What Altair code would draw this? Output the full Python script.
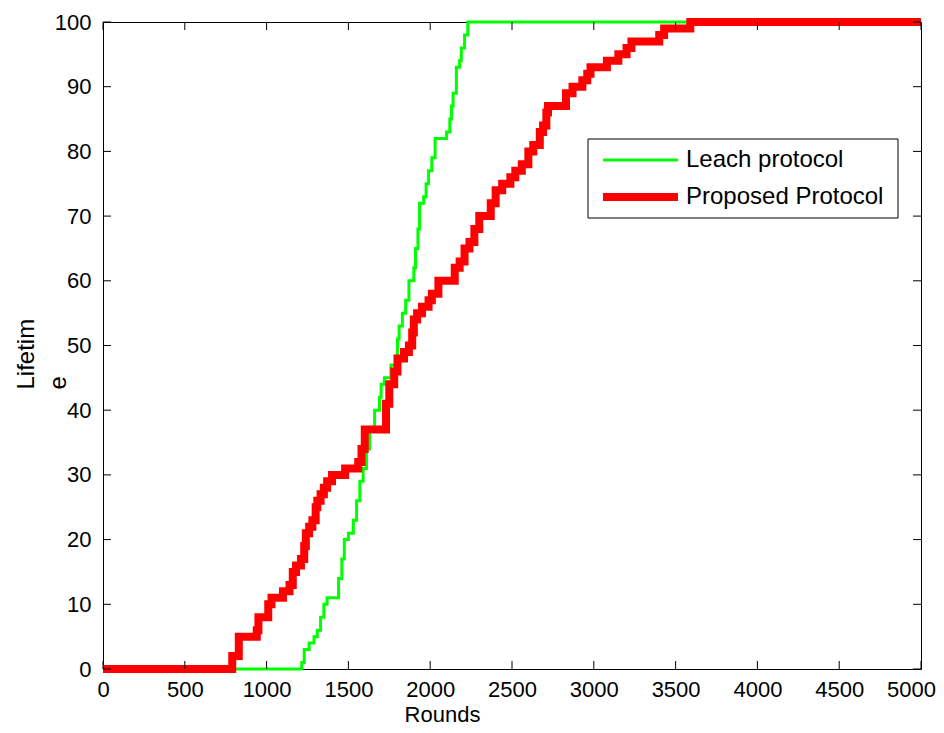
import altair as alt
import pandas as pd

# ---- data ----
series_names = ["Leach protocol", "Proposed Protocol"]
series_colors = ["#00ff00", "#ff0000"]
series_widths = [3, 8]

leach_rounds = [0, 1215, 1230, 1260, 1290, 1310, 1330, 1350, 1370, 1440, 1460, 1475,
                1500, 1530, 1550, 1570, 1590, 1610, 1630, 1660, 1690, 1700, 1720, 1760,
                1790, 1800, 1810, 1830, 1850, 1870, 1900, 1910, 1925, 1935, 1960, 1975,
                1990, 2010, 2030, 2100, 2120, 2130, 2140, 2160, 2180, 2190, 2210, 2230, 5000]
leach_values = [0, 1, 3, 4, 5, 6, 8, 10, 11, 14, 17, 20,
                21, 23, 26, 29, 31, 34, 37, 40, 42, 44, 45, 47,
                48, 51, 53, 55, 57, 60, 62, 65, 68, 72, 73, 75,
                77, 79, 82, 83, 85, 87, 89, 93, 94, 96, 98, 100, 100]

prop_rounds = [0, 790, 830, 940, 950, 1010, 1030, 1100, 1140, 1160, 1180, 1210, 1230,
               1240, 1260, 1280, 1300, 1310, 1330, 1350, 1370, 1400, 1480, 1560, 1580,
               1600, 1730, 1750, 1780, 1800, 1840, 1870, 1890, 1900, 1920, 1950, 1990,
               2010, 2050, 2150, 2180, 2210, 2240, 2270, 2300, 2370, 2400, 2440, 2490,
               2520, 2560, 2600, 2630, 2670, 2690, 2710, 2720, 2830, 2870, 2930, 2960,
               2980, 3080, 3150, 3200, 3230, 3400, 3430, 3590, 5000]
prop_values = [0, 2, 5, 6, 8, 10, 11, 12, 13, 15, 16, 17, 19,
               21, 22, 23, 25, 26, 27, 28, 29, 30, 31, 32, 34,
               37, 41, 44, 46, 48, 49, 50, 52, 54, 55, 56, 57,
               58, 60, 62, 63, 65, 66, 68, 70, 72, 74, 75, 76,
               77, 78, 80, 81, 83, 84, 86, 87, 89, 90, 91, 92,
               93, 94, 95, 96, 97, 98, 99, 100, 100]

x_ticks = [0, 500, 1000, 1500, 2000, 2500, 3000, 3500, 4000, 4500, 5000]
y_ticks = [0, 10, 20, 30, 40, 50, 60, 70, 80, 90, 100]

x_title = "Rounds"
y_title = ["Lifetim", "e"]

# ---- build tables ----
df = pd.concat([
    pd.DataFrame({"series": series_names[0], "round": leach_rounds, "value": leach_values}),
    pd.DataFrame({"series": series_names[1], "round": prop_rounds, "value": prop_values}),
], ignore_index=True)
xt = pd.DataFrame({"t": x_ticks})
yt = pd.DataFrame({"t": y_ticks})

W, H = 818, 647
FONT = "Liberation Sans"
TL = 8

xscale = alt.Scale(domain=[0, 5000], nice=False, zero=False)
yscale = alt.Scale(domain=[0, 100], nice=False, zero=False)
cscale = alt.Scale(domain=series_names, range=series_colors)
wscale = alt.Scale(domain=series_names, range=series_widths)

lines = alt.Chart(df).mark_line(interpolate="step-after", clip=False).encode(
    x=alt.X("round:Q", scale=xscale,
            axis=alt.Axis(values=x_ticks, title=x_title, format="d", ticks=False, domain=False,
                          grid=False, labelPadding=10, labelFontSize=22, titleFontSize=22,
                          labelFlush=False, labelOverlap=False,
                          labelOffset={"expr": "datum.value == 5000 ? -10 : 0"},
                          titleX=339, titleY=45, titleBaseline="middle", titleAnchor="start",
                          titleAlign="center")),
    y=alt.Y("value:Q", scale=yscale,
            axis=alt.Axis(values=y_ticks, title=y_title, format="d", ticks=False, domain=False,
                          grid=False, labelPadding=12, labelFontSize=22, titleFontSize=24,
                          labelFlush=False, labelOverlap=False,
                          titleX=-70, titleY=367, titleAngle=270, titleAlign="left",
                          titleBaseline="alphabetic", titleLineHeight=32)),
    color=alt.Color("series:N", scale=cscale, legend=None),
    strokeWidth=alt.StrokeWidth("series:N", scale=wscale, legend=None),
    order=alt.Order("round:Q"),
)

tick_style = dict(color="black", strokeWidth=1)
bottom_ticks = alt.Chart(xt).mark_rule(**tick_style).encode(
    x=alt.X("t:Q", scale=xscale, axis=None), y=alt.value(H), y2=alt.value(H - TL))
top_ticks = alt.Chart(xt).mark_rule(**tick_style).encode(
    x=alt.X("t:Q", scale=xscale, axis=None), y=alt.value(0), y2=alt.value(TL))
left_ticks = alt.Chart(yt).mark_rule(**tick_style).encode(
    y=alt.Y("t:Q", scale=yscale, axis=None), x=alt.value(0), x2=alt.value(TL))
right_ticks = alt.Chart(yt).mark_rule(**tick_style).encode(
    y=alt.Y("t:Q", scale=yscale, axis=None), x=alt.value(W), x2=alt.value(W - TL))

# ---- legend box ----
leg_df = pd.DataFrame({"series": series_names})
leg_box = alt.Chart(pd.DataFrame({"b": [0]})).mark_rect(
    fill="white", stroke="black", strokeWidth=1).encode(
    x=alt.value(485), x2=alt.value(795), y=alt.value(117), y2=alt.value(196))

leg_layers = [leg_box]
for i, name in enumerate(series_names):
    ypos = 138 + i * 37
    sub = alt.Chart(leg_df[leg_df["series"] == name])
    leg_layers.append(sub.mark_rule(strokeWidth=series_widths[i]).encode(
        x=alt.value(500), x2=alt.value(575), y=alt.value(ypos),
        color=alt.Color("series:N", scale=cscale, legend=None)))
    leg_layers.append(sub.mark_text(align="left", baseline="middle", fontSize=24,
                                    font=FONT, color="black").encode(
        x=alt.value(583), y=alt.value(ypos), text="series:N"))

chart = alt.layer(lines, bottom_ticks, top_ticks, left_ticks, right_ticks, *leg_layers).resolve_axis(
    x="independent", y="independent"
).properties(
    width=W, height=H,
    autosize=alt.AutoSizeParams(type="none"),
    padding={"left": 95, "top": 14, "right": 15, "bottom": 56},
    background="white",
).configure_view(
    stroke="black", strokeWidth=1
).configure_axis(
    labelFont=FONT, titleFont=FONT, labelColor="black", titleColor="black",
    titleFontWeight="normal",
)

chart.save("out.html", embed_options={"renderer": "svg", "actions": False})
